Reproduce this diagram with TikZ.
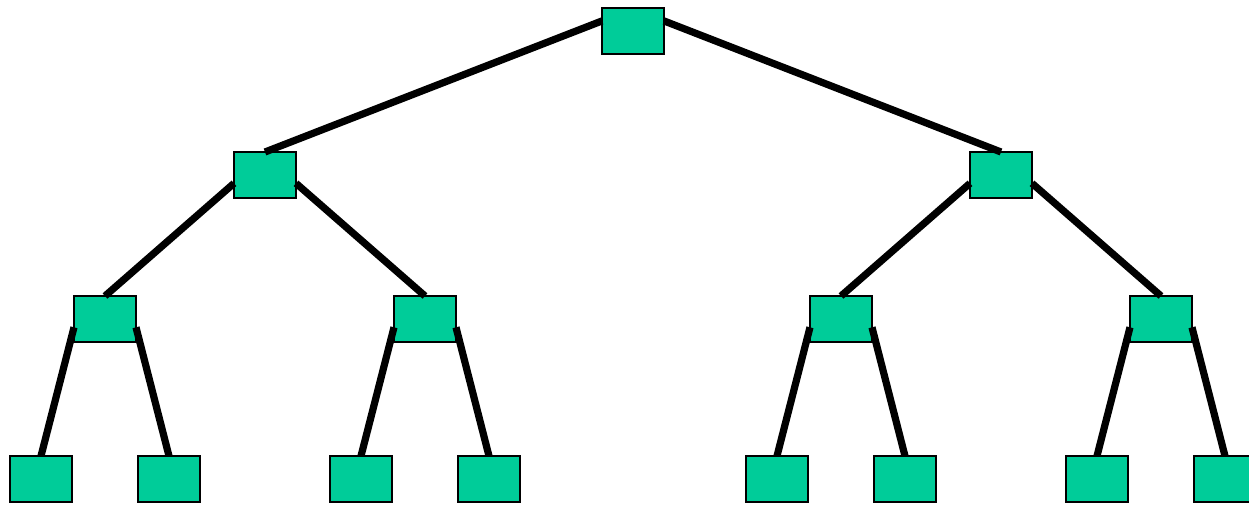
\documentclass[tikz,border=0pt]{standalone}
\usepackage{tikz}
\usetikzlibrary{positioning}

\definecolor{leafgreen}{HTML}{00CC99}

\begin{document}
\begin{tikzpicture}[auto,
  box/.style={draw=black,fill=leafgreen,line width=1pt,outer sep=0pt,minimum width=31pt,minimum height=23pt,inner sep=0pt},
  branch/.style={line width=3.6pt}]

  \useasboundingbox (0,0) rectangle (624.5pt,-252pt);

  \node[box] (root) at (316.5pt,-15.5pt) {};

  \node[box] (nodeA) [below left = 49pt and 153pt of root]  {};
  \node[box] (nodeB) [below right = 49pt and 153pt of root] {};

  \node[box] (nodeAA) [below left = 49pt and 49pt of nodeA]  {};
  \node[box] (nodeAB) [below right = 49pt and 49pt of nodeA] {};
  \node[box] (nodeBA) [below left = 49pt and 49pt of nodeB]  {};
  \node[box] (nodeBB) [below right = 49pt and 49pt of nodeB] {};

  \node[box] (nodeAAA) [below left = 57pt and 1pt of nodeAA]  {};
  \node[box] (nodeAAB) [below right = 57pt and 1pt of nodeAA] {};
  \node[box] (nodeABA) [below left = 57pt and 1pt of nodeAB]  {};
  \node[box] (nodeABB) [below right = 57pt and 1pt of nodeAB] {};
  \node[box] (nodeBAA) [below left = 57pt and 1pt of nodeBA]  {};
  \node[box] (nodeBAB) [below right = 57pt and 1pt of nodeBA] {};
  \node[box] (nodeBBA) [below left = 57pt and 1pt of nodeBB]  {};
  \node[box] (nodeBBB) [below right = 57pt and 1pt of nodeBB] {};

  % branches from the sides down to the tops
  \path[branch] (root.162) edge (nodeA.north)
    (root.18) edge (nodeB.north);

  \path[branch] (nodeA.195) edge (nodeAA.north)
    (nodeA.345) edge (nodeAB.north)
    (nodeB.195) edge (nodeBA.north)
    (nodeB.345) edge (nodeBB.north);

  \path[branch] (nodeAA.195) edge (nodeAAA.north)
    (nodeAA.345) edge (nodeAAB.north)
    (nodeAB.195) edge (nodeABA.north)
    (nodeAB.345) edge (nodeABB.north)
    (nodeBA.195) edge (nodeBAA.north)
    (nodeBA.345) edge (nodeBAB.north)
    (nodeBB.195) edge (nodeBBA.north)
    (nodeBB.345) edge (nodeBBB.north);

\end{tikzpicture}
\end{document}
